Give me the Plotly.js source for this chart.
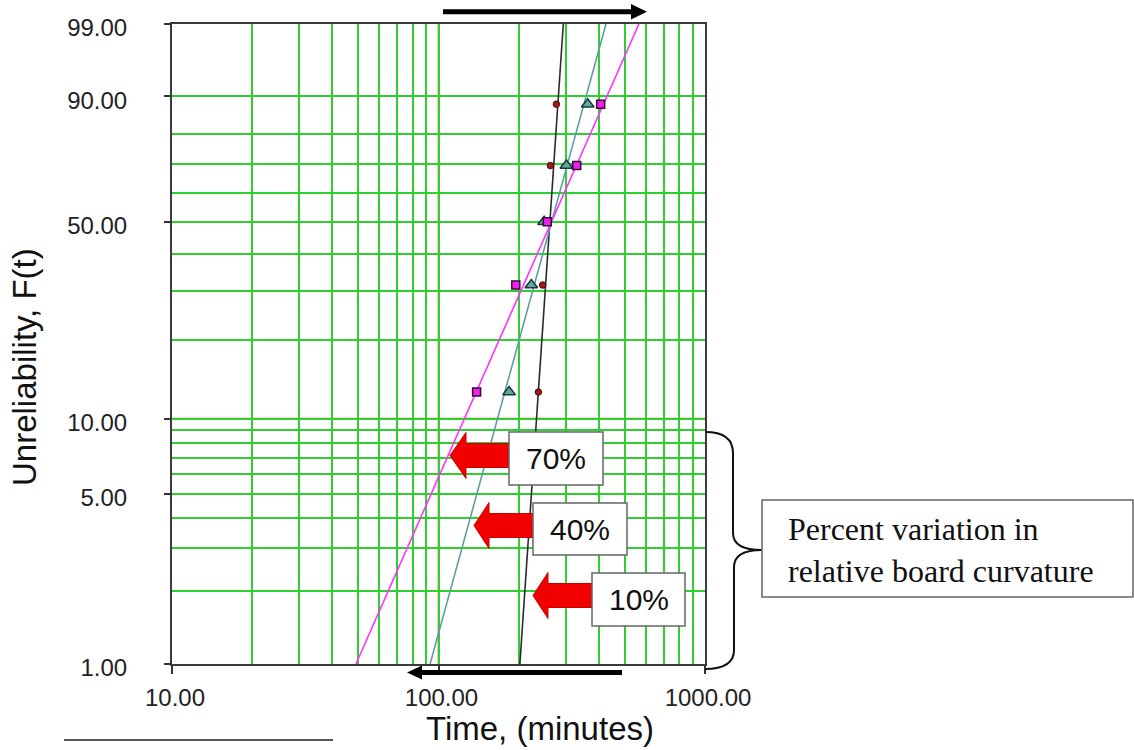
<!DOCTYPE html>
<html>
<head>
<meta charset="utf-8">
<script src="https://cdn.plot.ly/plotly-3.0.1.min.js"></script>
<style>
  html, body { margin: 0; padding: 0; background: #fff; }
  #chart { width: 1134px; height: 750px; }
</style>
</head>
<body>
<div id="chart"></div>
<script>
// Weibull probability plot of failure times for three levels of board curvature variation

// Unreliability (%) at each plotted failure (median-rank positions)
const rankF = [12.7, 31.5, 50.0, 69.5, 88.2];

// Failure times (minutes) per curvature variation level
const times10 = [237, 246, 253, 263, 277];
const times40 = [184, 223, 249, 302, 363];
const times70 = [139, 195, 256, 330, 406];

// Fitted Weibull lines, evaluated at the bottom and top of the probability scale
const fitF = [1, 99];
const fit10 = [202, 294];
const fit40 = [93, 425];
const fit70 = [49, 565];

// Axis labels
const yTickF = [1, 5, 10, 50, 90, 99];
const yTickText = ['1.00', '5.00', '10.00', '50.00', '90.00', '99.00'];
const yMinorF = [2, 3, 4, 6, 7, 8, 9, 20, 30, 40, 60, 70, 80];
const xTickVals = [10, 100, 1000];
const xTickText = ['10.00', '100.00', '1000.00'];
const xMinorVals = [20, 30, 40, 50, 60, 70, 80, 90, 200, 300, 400, 500, 600, 700, 800, 900];

const variationLabels = ['70%', '40%', '10%'];

// Weibull probability transform: ln(-ln(1 - F))
const wb = F => Math.log(-Math.log(1 - F / 100));

// Figure geometry (pixels) used for the callouts drawn around the plot
const W = 1134, H = 750;
const M = { l: 172, r: 429, t: 24, b: 86 };
const PW = W - M.l - M.r, PH = H - M.t - M.b;
const px = x => (x - M.l) / PW;
const py = y => (M.t + PH - y) / PH;
const pt = (x, y) => px(x).toFixed(5) + ',' + py(y).toFixed(5);

const GREEN = '#2fcf2f';
const RED = '#ff3b3b';

const traces = [
  { x: fit10, y: fitF.map(wb), mode: 'lines', line: { color: '#2b2b2b', width: 1.6 }, hoverinfo: 'skip' },
  { x: fit40, y: fitF.map(wb), mode: 'lines', line: { color: '#5f9ea0', width: 1.6 }, hoverinfo: 'skip' },
  { x: fit70, y: fitF.map(wb), mode: 'lines', line: { color: '#ff33ff', width: 1.6 }, hoverinfo: 'skip' },
  { x: times10, y: rankF.map(wb), mode: 'markers',
    marker: { symbol: 'circle', size: 6.5, color: '#a01818', line: { color: '#4a0a0a', width: 1 } } },
  { x: times40, y: rankF.map(wb), mode: 'markers',
    marker: { symbol: 'triangle-up', size: 11, color: '#5fa9a2', line: { color: '#1c3a3a', width: 1.5 } } },
  { x: times70, y: rankF.map(wb), mode: 'markers',
    marker: { symbol: 'square', size: 8, color: '#ee22ee', line: { color: '#3a0a3a', width: 1.5 } } }
];

// Red block arrows with boxed labels
function blockArrow(tip, cy, base, end, headH, shaftH) {
  return 'M ' + pt(tip, cy) + ' L ' + pt(base, cy - headH) + ' L ' + pt(base, cy - shaftH) +
    ' L ' + pt(end, cy - shaftH) + ' L ' + pt(end, cy + shaftH) + ' L ' + pt(base, cy + shaftH) +
    ' L ' + pt(base, cy + headH) + ' Z';
}
const callouts = [
  { tip: 450, cy: 455.5, base: 466, end: 510, box: [509, 432, 603, 485] },
  { tip: 474, cy: 525.5, base: 489, end: 534, box: [533, 503, 627, 555] },
  { tip: 533, cy: 595.5, base: 548, end: 592, box: [592, 573, 685, 626] }
];

const shapes = [
  // red reference lines at 10 % and 100 minutes
  { type: 'line', xref: 'paper', yref: 'y', x0: 0, x1: 1, y0: wb(10), y1: wb(10), layer: 'below',
    line: { color: RED, width: 1.6 } },
  { type: 'line', xref: 'x', yref: 'paper', x0: 100, x1: 100, y0: 0, y1: 1, layer: 'below',
    line: { color: RED, width: 1.6 } },
  // direction arrows along the top and bottom
  { type: 'path', xref: 'paper', yref: 'paper', fillcolor: '#000', line: { width: 0 },
    path: 'M ' + pt(443, 9.3) + ' L ' + pt(631, 9.3) + ' L ' + pt(631, 4) + ' L ' + pt(647, 11.8) +
      ' L ' + pt(631, 19.5) + ' L ' + pt(631, 14.3) + ' L ' + pt(443, 14.3) + ' Z' },
  { type: 'path', xref: 'paper', yref: 'paper', fillcolor: '#000', line: { width: 0 },
    path: 'M ' + pt(622, 670) + ' L ' + pt(422, 670) + ' L ' + pt(422, 665.5) + ' L ' + pt(407, 672.5) +
      ' L ' + pt(422, 679.5) + ' L ' + pt(422, 675) + ' L ' + pt(622, 675) + ' Z' },
  // brace grouping the three curves
  { type: 'path', xref: 'paper', yref: 'paper', line: { color: '#111', width: 2 },
    path: 'M ' + pt(705, 432) + ' C ' + pt(723, 432) + ' ' + pt(733, 438) + ' ' + pt(733, 453) +
      ' L ' + pt(733, 533) + ' C ' + pt(733, 545) + ' ' + pt(744, 550) + ' ' + pt(762, 550) +
      ' C ' + pt(744, 550) + ' ' + pt(734, 555) + ' ' + pt(734, 567) +
      ' L ' + pt(734, 650) + ' C ' + pt(734, 663) + ' ' + pt(723, 669) + ' ' + pt(705, 669) },
  // explanatory box
  { type: 'rect', xref: 'paper', yref: 'paper', x0: px(762), x1: px(1133), y0: py(597), y1: py(500),
    fillcolor: '#fff', line: { color: '#666', width: 1.5 } },
  // short rule under the chart
  { type: 'line', xref: 'paper', yref: 'paper', x0: px(64), x1: px(333), y0: py(740), y1: py(740),
    line: { color: '#555', width: 2 } }
];

const annotations = [
  { xref: 'paper', yref: 'paper', x: px(540), y: py(728), text: 'Time, (minutes)', showarrow: false,
    xanchor: 'center', yanchor: 'middle',
    font: { family: 'Liberation Sans, Arial, sans-serif', size: 33, color: '#111' } },
  { xref: 'paper', yref: 'paper', x: px(24), y: py(367), text: 'Unreliability, F(t)', showarrow: false,
    textangle: -90, xanchor: 'center', yanchor: 'middle',
    font: { family: 'Liberation Sans, Arial, sans-serif', size: 33, color: '#111' } },
  { xref: 'paper', yref: 'paper', x: px(786), y: py(550), xanchor: 'left', yanchor: 'middle', align: 'left',
    text: 'Percent variation in<br>relative board curvature', showarrow: false,
    font: { family: 'Liberation Serif, Times New Roman, serif', size: 32, color: '#111' } }
];

callouts.forEach((c, i) => {
  shapes.push({ type: 'path', xref: 'paper', yref: 'paper', fillcolor: '#f20000',
    line: { color: '#c80000', width: 1 },
    path: blockArrow(c.tip, c.cy, c.base, c.end, 23, 12) });
  shapes.push({ type: 'rect', xref: 'paper', yref: 'paper',
    x0: px(c.box[0]), x1: px(c.box[2]), y0: py(c.box[3]), y1: py(c.box[1]),
    fillcolor: '#fff', line: { color: '#666', width: 1.5 } });
  annotations.push({ xref: 'paper', yref: 'paper',
    x: px((c.box[0] + c.box[2]) / 2), y: py((c.box[1] + c.box[3]) / 2),
    text: variationLabels[i], showarrow: false, xanchor: 'center', yanchor: 'middle',
    font: { family: 'Liberation Sans, Arial, sans-serif', size: 30, color: '#111' } });
});

const tickFont = { family: 'Liberation Sans, Arial, sans-serif', size: 24, color: '#222' };

const layout = {
  width: W, height: H,
  margin: M,
  paper_bgcolor: '#fff', plot_bgcolor: '#fff',
  showlegend: false,
  xaxis: {
    type: 'log', range: [1, 3],
    tickmode: 'array', tickvals: xTickVals, ticktext: xTickText,
    ticks: 'outside', ticklen: 8, tickwidth: 2, tickcolor: '#333',
    ticklabelstandoff: 3, ticklabelshift: 3, tickfont: tickFont,
    showgrid: true, gridcolor: GREEN, gridwidth: 2,
    minor: { tickmode: 'array', tickvals: xMinorVals, showgrid: true, gridcolor: GREEN, gridwidth: 2, ticks: '' },
    showline: true, linecolor: '#3a3a3a', linewidth: 2, mirror: true,
    zeroline: false, fixedrange: true
  },
  yaxis: {
    range: [wb(1), wb(99)],
    tickmode: 'array', tickvals: yTickF.map(wb), ticktext: yTickText,
    ticks: 'outside', ticklen: 6, tickwidth: 2, tickcolor: '#333',
    ticklabelstandoff: 32, ticklabelshift: 4, tickfont: tickFont,
    showgrid: true, gridcolor: GREEN, gridwidth: 2,
    minor: { tickmode: 'array', tickvals: yMinorF.map(wb), showgrid: true, gridcolor: GREEN, gridwidth: 2, ticks: '' },
    showline: true, linecolor: '#3a3a3a', linewidth: 2, mirror: true,
    zeroline: false, fixedrange: true
  },
  shapes: shapes,
  annotations: annotations
};

Plotly.newPlot('chart', traces, layout, { displayModeBar: false, staticPlot: true });
</script>
</body>
</html>
